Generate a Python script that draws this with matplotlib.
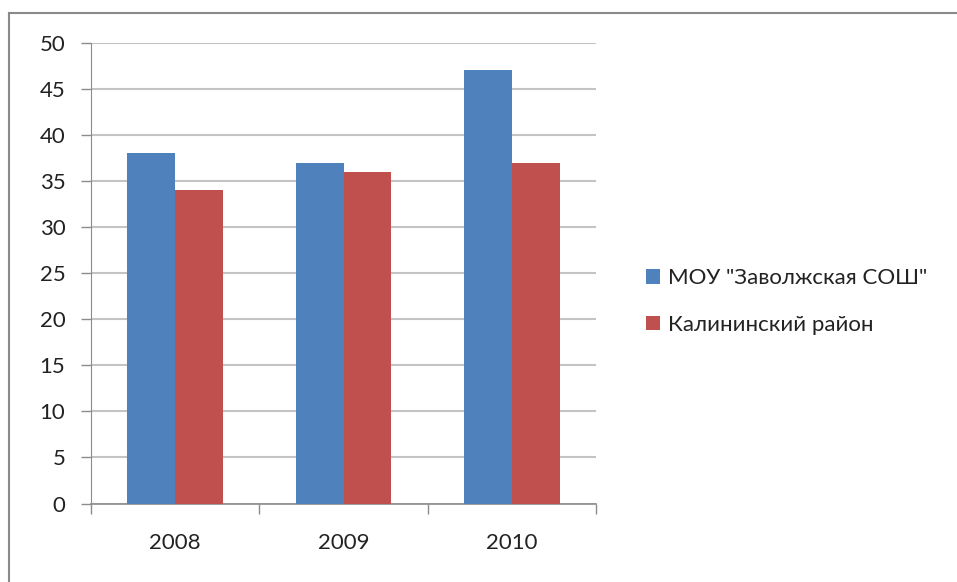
import numpy as np
import matplotlib.pyplot as plt
from matplotlib.lines import Line2D

years = ["2008", "2009", "2010"]
school = [38, 37, 47]
district = [34, 36, 37]
series_names = ['МОУ "Заволжская СОШ"', "Калининский район"]
yticks = [0, 5, 10, 15, 20, 25, 30, 35, 40, 45, 50]

plt.rcParams['font.family'] = ['Lato', 'DejaVu Sans']

fig = plt.figure(figsize=(9.57, 5.82), dpi=100)
ax = fig.add_axes([91 / 957, 1 - 503.5 / 582, (596 - 91) / 957, (503.5 - 42.7) / 582])

x = np.arange(len(years))
w = 0.285
b1 = ax.bar(x - w / 2, school, w, color='#4F81BD', label=series_names[0], zorder=3)
b2 = ax.bar(x + w / 2, district, w, color='#C0504D', label=series_names[1], zorder=3)

ax.set_xlim(-0.5, len(years) - 0.5)
ax.set_ylim(0, 50)
ax.set_yticks(yticks)
ax.tick_params(axis='y', length=7, width=1, color='#8C8C8C', labelsize=16, labelcolor='#222222', pad=11.5)
ax.yaxis.grid(True, color='#C4C4C4', linewidth=1.5, zorder=0)

# category boundaries for tick marks, labels at centers
ax.set_xticks(np.arange(len(years) + 1) - 0.5)
ax.set_xticklabels([])
ax.set_xticks(x, minor=True)
ax.set_xticklabels(years, minor=True)
ax.tick_params(axis='x', which='major', length=7, width=1, color='#8C8C8C')
ax.tick_params(axis='x', which='minor', length=0, labelsize=16, labelcolor='#222222', pad=21)

for s in ['top', 'right']:
    ax.spines[s].set_visible(False)
ax.spines['left'].set_color('#8C8C8C')
ax.spines['bottom'].set_color('#8C8C8C')
ax.spines['bottom'].set_linewidth(1.2)

leg = fig.legend(handles=[b1, b2], loc='center left', bbox_to_anchor=(626 / 957, 1 - 301.5 / 582),
                 frameon=False, fontsize=16, handlelength=0.62, handleheight=0.62,
                 handletextpad=0.35, labelspacing=1.2, labelcolor='#222222')

# outer chart border (top and left sides visible)
fig.add_artist(Line2D([9 / 957, 1], [1 - 13 / 582, 1 - 13 / 582], color='#8A8A8A', linewidth=1.5, transform=fig.transFigure))
fig.add_artist(Line2D([9 / 957, 9 / 957], [0, 1 - 13 / 582], color='#8A8A8A', linewidth=1.5, transform=fig.transFigure))

fig.savefig('out.png', dpi=100)
